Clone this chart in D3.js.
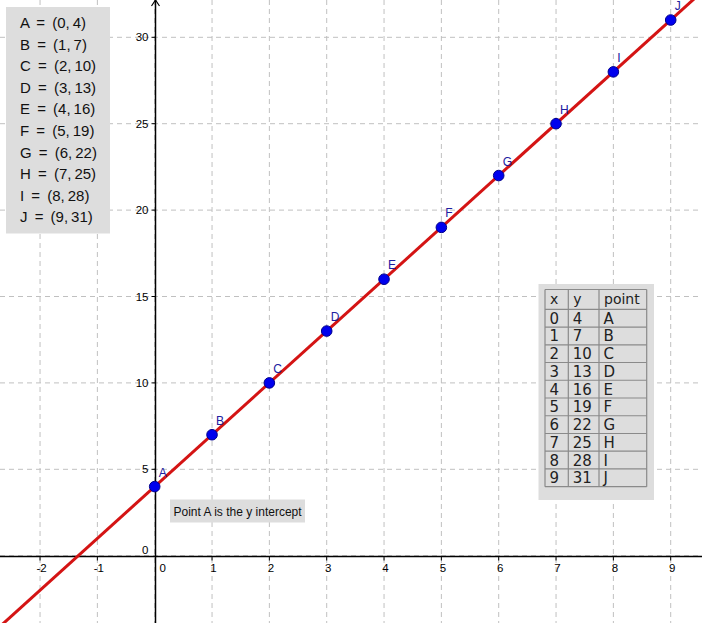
<!DOCTYPE html>
<html><head><meta charset="utf-8">
<script src="https://cdn.jsdelivr.net/npm/d3@7"></script>
<style>
html,body{margin:0;padding:0;background:#fff;}
svg{display:block;}
</style></head>
<body>
<script>
const names = ["A","B","C","D","E","F","G","H","I","J"];
const xVals = [0,1,2,3,4,5,6,7,8,9];
const yVals = [4,7,10,13,16,19,22,25,28,31];
const xTicks = [-2,-1,0,1,2,3,4,5,6,7,8,9];
const yTicks = [0,5,10,15,20,25,30];
const slope = 3, intercept = 4;
const caption = "Point A is the y intercept";
const tableHeader = ["x","y","point"];

const W = 702, H = 623;
const x = d3.scaleLinear().domain([0, 9]).range([154.7, 670.7]);
const y = d3.scaleLinear().domain([0, 30]).range([555.7, 37.3]);

const svg = d3.select("body").append("svg").attr("width", W).attr("height", H);
const font = "'Liberation Sans', Arial, sans-serif";

// grid
const xGrid = d3.range(Math.ceil(x.invert(0)), Math.floor(x.invert(W)) + 1);
const yGrid = d3.range(Math.ceil(y.invert(H) / 5) * 5, y.invert(0), 5);
svg.append("g").selectAll("line").data(xGrid).join("line")
  .attr("x1", d => x(d)).attr("x2", d => x(d)).attr("y1", 0).attr("y2", H)
  .attr("stroke", "#c0c0c0").attr("stroke-dasharray", "5,4").attr("stroke-width", 1);
svg.append("g").selectAll("line").data(yGrid).join("line")
  .attr("y1", d => y(d)).attr("y2", d => y(d)).attr("x1", 0).attr("x2", W)
  .attr("stroke", "#c0c0c0").attr("stroke-dasharray", "5,4").attr("stroke-width", 1);

// axes
const x0 = Math.round(x(0)) + 0.5, y0 = Math.round(y(0)) + 0.5;
svg.append("line").attr("x1", 0).attr("x2", W).attr("y1", y0).attr("y2", y0)
  .attr("stroke", "#000").attr("stroke-width", 1.5);
svg.append("line").attr("x1", x0).attr("x2", x0).attr("y1", 0).attr("y2", H)
  .attr("stroke", "#000").attr("stroke-width", 1.5);
svg.append("path").attr("d", `M${x0-4},${6} L${x0},0 L${x0+4},${6}`)
  .attr("fill", "none").attr("stroke", "#000").attr("stroke-width", 1.2);

// ticks
svg.append("g").selectAll("line").data(xTicks.filter(d => d !== 0)).join("line")
  .attr("x1", d => x(d)).attr("x2", d => x(d)).attr("y1", y0).attr("y2", y0 + 4)
  .attr("stroke", "#000");
svg.append("g").selectAll("line").data(yTicks.filter(d => d !== 0)).join("line")
  .attr("y1", d => y(d)).attr("y2", d => y(d)).attr("x1", x0 - 4).attr("x2", x0)
  .attr("stroke", "#000");

// tick labels
svg.append("g").selectAll("text").data(xTicks).join("text")
  .attr("x", d => d === 0 ? x(d) + 8 : x(d) + 1.5).attr("y", y0 + 15)
  .attr("text-anchor", "middle").attr("font-family", font).attr("font-size", 11.5)
  .attr("fill", "#000").text(d => d);
svg.append("g").selectAll("text").data(yTicks).join("text")
  .attr("x", x0 - 7).attr("y", d => d === 0 ? y(d) - 2 : y(d) + 4)
  .attr("text-anchor", "end").attr("font-family", font).attr("font-size", 11.5)
  .attr("fill", "#000").text(d => d);

// line y = 3x + 4
const xa = x.invert(-5), xb = x.invert(W + 5);
svg.append("line")
  .attr("x1", x(xa)).attr("y1", y(slope * xa + intercept))
  .attr("x2", x(xb)).attr("y2", y(slope * xb + intercept))
  .attr("stroke", "#d41414").attr("stroke-width", 3);

// points
const pts = names.map((n, i) => ({n, x: xVals[i], y: yVals[i]}));
svg.append("g").selectAll("circle").data(pts).join("circle")
  .attr("cx", d => x(d.x)).attr("cy", d => y(d.y)).attr("r", 5.3)
  .attr("fill", "#0000ee").attr("stroke", "#00008b").attr("stroke-width", 1);
svg.append("g").selectAll("text").data(pts).join("text")
  .attr("x", d => x(d.x) + 4).attr("y", d => y(d.y) - 10)
  .attr("font-family", font).attr("font-size", 12).attr("fill", "#2020a0").text(d => d.n);

// left list box
svg.append("rect").attr("x", 6).attr("y", 7).attr("width", 104).attr("height", 226.5).attr("fill", "#dddddd");
svg.append("g").selectAll("text").data(pts).join("text")
  .attr("x", 20).attr("y", (d, i) => 22.7 + i * 21.6 + 5.3)
  .attr("font-family", font).attr("font-size", 15).attr("fill", "#111")
  .attr("xml:space", "preserve").attr("word-spacing", 3)
  .text(d => `${d.n} = (${d.x},\u2009${d.y})`);

// table
const tx = [545, 568.3, 599, 646.7];
const ty = [289.5, 309.3].concat(d3.range(1, 11).map(i => 309.3 + i * 17.74));
svg.append("rect").attr("x", 538.5).attr("y", 284).attr("width", 115.5).attr("height", 216).attr("fill", "#dddddd");
const tg = svg.append("g");
ty.forEach(v => tg.append("line").attr("x1", tx[0]).attr("x2", tx[3]).attr("y1", v).attr("y2", v)
  .attr("stroke", "#8a8a8a").attr("stroke-width", 1.2));
tx.forEach(v => tg.append("line").attr("x1", v).attr("x2", v).attr("y1", ty[0]).attr("y2", ty[ty.length-1])
  .attr("stroke", "#8a8a8a").attr("stroke-width", 1.2));
const tf = "'DejaVu Sans', sans-serif";
tableHeader.forEach((h, j) => tg.append("text").attr("x", tx[j] + 5).attr("y", (ty[0] + ty[1]) / 2 + 5)
  .attr("font-family", tf).attr("font-size", 14).attr("fill", "#222").text(h));
pts.forEach((p, i) => {
  const cy = (ty[i+1] + ty[i+2]) / 2 + 5.5;
  [p.x, p.y, p.n].forEach((v, j) => tg.append("text").attr("x", tx[j] + 4.5).attr("y", cy)
    .attr("font-family", tf).attr("font-size", 15).attr("fill", "#222").text(v));
});

// caption
svg.append("rect").attr("x", 170).attr("y", 499.5).attr("width", 135).attr("height", 23).attr("fill", "#dddddd");
svg.append("text").attr("x", 173.5).attr("y", 515.5).attr("font-family", font).attr("font-size", 12)
  .attr("fill", "#111").text(caption);
</script>
</body></html>
